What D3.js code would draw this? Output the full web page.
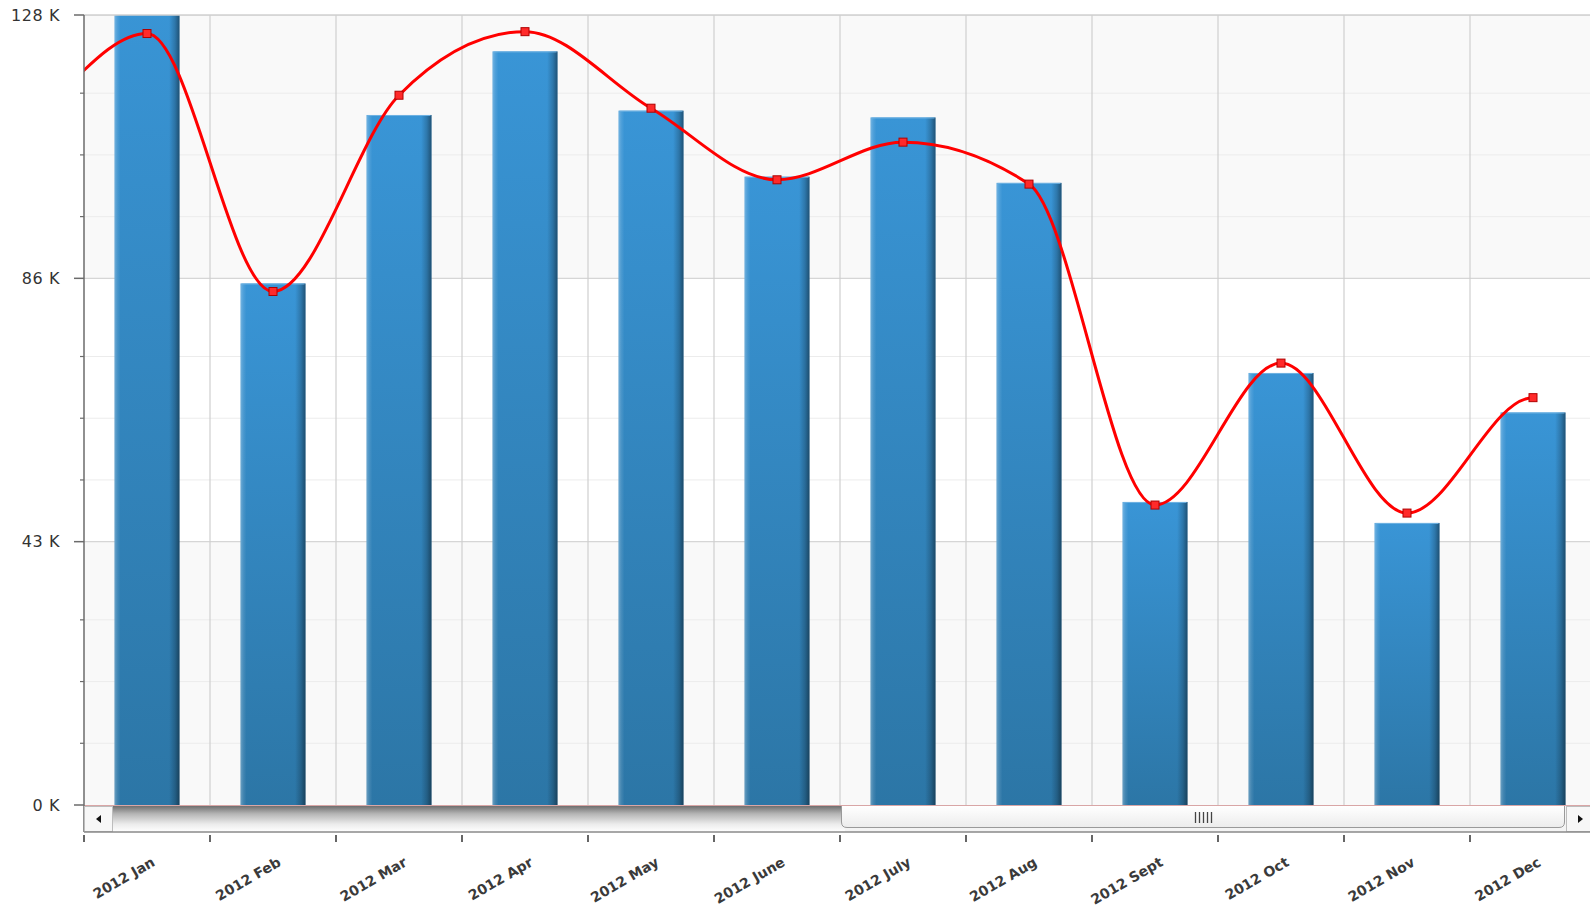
<!DOCTYPE html>
<html>
<head>
<meta charset="utf-8">
<script src="https://cdn.jsdelivr.net/npm/d3@7"></script>
<style>
  html, body { margin: 0; padding: 0; background: #ffffff; }
  svg { display: block; }
</style>
</head>
<body>
<svg id="chart" width="1590" height="909"></svg>
<script>
// ---------- data (values in thousands) ----------
const months = ["2012 Jan", "2012 Feb", "2012 Mar", "2012 Apr", "2012 May", "2012 June",
                "2012 July", "2012 Aug", "2012 Sept", "2012 Oct", "2012 Nov", "2012 Dec"];
const barValues  = [131, 84.5, 111.8, 122.1, 112.5, 101.8, 111.4, 100.8, 49.1, 70.0, 45.7, 63.6];
const lineValues = [125.0, 83.2, 115.0, 125.3, 112.9, 101.3, 107.4, 100.6, 48.6, 71.6, 47.3, 66.0];
// earlier months, scrolled out of view on the left
const priorMonths = ["2011 Nov", "2011 Dec"];
const priorLineValues = [100, 110];
const yMax = 128;
const yMajorTicks = [0, 128 / 3, 256 / 3, 128];
const yTickLabels = ["0 K", "43 K", "86 K", "128 K"];
const yMinorSteps = [10, 20, 30];

// ---------- layout ----------
const svg = d3.select("#chart");
const pL = 84, pT = 15, pB = 805, pR = 1590;
const step = 126;
const allMonths = priorMonths.concat(months);
const x = d3.scaleBand()
  .domain(allMonths)
  .range([pL - priorMonths.length * step, pL + months.length * step])
  .paddingInner(0.484).paddingOuter(0.242);
const y = d3.scaleLinear().domain([0, yMax]).range([pB, pT]);
const bw = x.bandwidth();
const cx = m => x(m) + bw / 2;
const bandStart = m => cx(m) - step / 2;

const defs = svg.append("defs");
defs.append("clipPath").attr("id", "plotClip")
  .append("rect").attr("x", pL).attr("y", pT).attr("width", pR - pL).attr("height", pB - pT);
const lastX = cx(months[months.length - 1]);
defs.append("clipPath").attr("id", "lineClip")
  .append("rect").attr("x", pL).attr("y", 0).attr("width", lastX - pL).attr("height", pB);

const gv = defs.append("linearGradient").attr("id", "barV").attr("x1", 0).attr("y1", 0).attr("x2", 0).attr("y2", 1);
gv.append("stop").attr("offset", "0%").attr("stop-color", "#3995d6");
gv.append("stop").attr("offset", "100%").attr("stop-color", "#2c76a6");
const gh = defs.append("linearGradient").attr("id", "barH").attr("x1", 0).attr("y1", 0).attr("x2", 1).attr("y2", 0);
[["0%", "#ffffff", 0.3], ["4%", "#ffffff", 0.12], ["9%", "#ffffff", 0.0],
 ["84%", "#000000", 0.0], ["93%", "#000000", 0.2], ["100%", "#000000", 0.45]].forEach(s =>
  gh.append("stop").attr("offset", s[0]).attr("stop-color", s[1]).attr("stop-opacity", s[2]));

const gTrack = defs.append("linearGradient").attr("id", "track").attr("x1", 0).attr("y1", 0).attr("x2", 0).attr("y2", 1);
[["0%", "#6f6f6f"], ["30%", "#b5b5b5"], ["70%", "#ececec"], ["100%", "#ffffff"]].forEach(s =>
  gTrack.append("stop").attr("offset", s[0]).attr("stop-color", s[1]));
const gThumb = defs.append("linearGradient").attr("id", "thumb").attr("x1", 0).attr("y1", 0).attr("x2", 0).attr("y2", 1);
[["0%", "#ffffff"], ["100%", "#ececec"]].forEach(s =>
  gThumb.append("stop").attr("offset", s[0]).attr("stop-color", s[1]));

// ---------- background bands ----------
const bandsG = svg.append("g").attr("clip-path", "url(#plotClip)");
for (let i = 0; i < yMajorTicks.length - 1; i++) {
  bandsG.append("rect")
    .attr("x", pL).attr("width", pR - pL)
    .attr("y", y(yMajorTicks[i + 1])).attr("height", y(yMajorTicks[i]) - y(yMajorTicks[i + 1]))
    .attr("fill", i % 2 === 0 ? "#f9f9f9" : "#ffffff");
}

// minor grid
const minorVals = [];
yMajorTicks.slice(0, -1).forEach(t => yMinorSteps.forEach(s => minorVals.push(t + s)));
bandsG.selectAll("line.minor").data(minorVals).enter().append("line")
  .attr("x1", pL).attr("x2", pR).attr("y1", d => y(d)).attr("y2", d => y(d))
  .attr("stroke", "#ececec").attr("stroke-width", 1);
// major grid
bandsG.selectAll("line.major").data(yMajorTicks.slice(1)).enter().append("line")
  .attr("x1", pL).attr("x2", pR).attr("y1", d => y(d)).attr("y2", d => y(d))
  .attr("stroke", "#d6d6d6").attr("stroke-width", 1.2);
// vertical grid at category boundaries
bandsG.selectAll("line.vgrid").data(months.slice(1)).enter().append("line")
  .attr("x1", d => bandStart(d)).attr("x2", d => bandStart(d))
  .attr("y1", pT).attr("y2", pB)
  .attr("stroke", "#cfcfcf").attr("stroke-width", 1.2);

// ---------- bars ----------
const barsG = svg.append("g").attr("clip-path", "url(#plotClip)");
months.forEach((m, i) => {
  const v = barValues[i];
  const g = barsG.append("g");
  g.append("rect").attr("x", x(m)).attr("width", bw)
    .attr("y", y(v)).attr("height", y(0) - y(v)).attr("fill", "url(#barV)");
  g.append("rect").attr("x", x(m)).attr("width", bw)
    .attr("y", y(v)).attr("height", y(0) - y(v)).attr("fill", "url(#barH)");
  g.append("line").attr("x1", x(m) + 1).attr("x2", x(m) + bw - 1)
    .attr("y1", y(v) + 0.5).attr("y2", y(v) + 0.5)
    .attr("stroke", "#6fb2e2").attr("stroke-width", 1);
});

// baseline
svg.append("line").attr("x1", pL).attr("x2", pR).attr("y1", pB + 0.5).attr("y2", pB + 0.5)
  .attr("stroke", "#d9a6a6").attr("stroke-width", 1);

// ---------- line ----------
// the smoothing treats the last point as a turning point (flat tangent), as in the original
const lineXs = allMonths.map(cx).concat([cx(months[months.length - 1]) + step]);
const lineYs = priorLineValues.concat(lineValues);
lineYs.push(lineValues[lineValues.length - 2]);
const linePts = lineXs.map((xx, i) => [xx, y(lineYs[i])]);
const lineG = svg.append("g").attr("clip-path", "url(#plotClip)");
lineG.append("g").attr("clip-path", "url(#lineClip)").append("path")
  .attr("d", d3.line().curve(d3.curveMonotoneX)(linePts))
  .attr("fill", "none").attr("stroke", "#ff0000").attr("stroke-width", 3)
  .attr("stroke-linejoin", "round");
lineG.selectAll("rect.mk").data(months).enter().append("rect")
  .attr("x", (d) => cx(d) - 4).attr("y", (d, i) => y(lineValues[i]) - 4)
  .attr("width", 8).attr("height", 8)
  .attr("fill", "#ff2a2a").attr("stroke", "#b00000").attr("stroke-width", 1);

// top border
svg.append("line").attr("x1", pL).attr("x2", pR).attr("y1", pT).attr("y2", pT)
  .attr("stroke", "#d0d0d0").attr("stroke-width", 1.5);

// ---------- y axis ----------
const axisColor = "#6b6b6b";
svg.append("line").attr("x1", pL).attr("x2", pL).attr("y1", pT).attr("y2", 832)
  .attr("stroke", axisColor).attr("stroke-width", 1.5);
svg.selectAll("line.ytick").data(yMajorTicks).enter().append("line")
  .attr("x1", pL - 10).attr("x2", pL).attr("y1", d => y(d)).attr("y2", d => y(d))
  .attr("stroke", axisColor).attr("stroke-width", 1.5);
svg.selectAll("line.yminor").data(minorVals).enter().append("line")
  .attr("x1", pL - 4).attr("x2", pL).attr("y1", d => y(d)).attr("y2", d => y(d))
  .attr("stroke", axisColor).attr("stroke-width", 1.2);
svg.selectAll("text.ylab").data(yMajorTicks).enter().append("text")
  .attr("x", 60).attr("y", d => y(d)).attr("dy", "0.36em")
  .attr("text-anchor", "end")
  .attr("font-family", "'DejaVu Sans', Verdana, sans-serif").attr("font-size", 16)
  .attr("letter-spacing", 0.6)
  .attr("fill", "#333")
  .text((d, i) => yTickLabels[i]);

// ---------- scrollbar ----------
const sbTop = pB + 1, sbBot = 832;
svg.append("rect").attr("x", pL).attr("y", sbTop).attr("width", pR - pL).attr("height", sbBot - sbTop)
  .attr("fill", "#f4f4f4");
svg.append("rect").attr("x", 113).attr("y", sbTop).attr("width", 845 - 113).attr("height", sbBot - sbTop)
  .attr("fill", "url(#track)");
// left button
svg.append("rect").attr("x", pL + 0.5).attr("y", sbTop + 0.5).attr("width", 113 - pL - 1).attr("height", sbBot - sbTop - 1)
  .attr("fill", "#f7f7f7").attr("stroke", "#bdbdbd");
svg.append("path").attr("d", "M96,819 L101,815 L101,823 Z").attr("fill", "#111");
// right button
svg.append("rect").attr("x", 1566.5).attr("y", sbTop + 0.5).attr("width", 30).attr("height", sbBot - sbTop - 1)
  .attr("fill", "#f7f7f7").attr("stroke", "#bdbdbd");
svg.append("path").attr("d", "M1583,819 L1578,815 L1578,823 Z").attr("fill", "#111");
// thumb
svg.append("path")
  .attr("d", "M841.5,806 L841.5,822 Q841.5,827.5 847,827.5 L1559,827.5 Q1564.5,827.5 1564.5,822 L1564.5,806")
  .attr("fill", "url(#thumb)").attr("stroke", "#9a9a9a").attr("stroke-width", 1);
[0, 1, 2, 3, 4].forEach(k => {
  svg.append("line").attr("x1", 1195 + k * 4 + 0.5).attr("x2", 1195 + k * 4 + 0.5)
    .attr("y1", 812).attr("y2", 823).attr("stroke", "#444").attr("stroke-width", 1.3);
});
// x axis line (bottom of scrollbar)
svg.append("line").attr("x1", pL).attr("x2", pR).attr("y1", sbBot).attr("y2", sbBot)
  .attr("stroke", "#8a8a8a").attr("stroke-width", 1.5);

// ---------- x axis ticks & labels ----------
svg.selectAll("line.xtick").data(months).enter().append("line")
  .attr("x1", d => bandStart(d)).attr("x2", d => bandStart(d))
  .attr("y1", 835).attr("y2", 842)
  .attr("stroke", "#333").attr("stroke-width", 1.5);
svg.selectAll("text.xlab").data(months).enter().append("text")
  .attr("transform", d => `translate(${cx(d) + 9},${865}) rotate(-30)`)
  .attr("text-anchor", "end")
  .attr("font-family", "'DejaVu Sans', Verdana, sans-serif").attr("font-size", 14)
  .attr("font-weight", "bold")
  .attr("fill", "#3a3a3a")
  .text(d => d);
</script>
</body>
</html>
